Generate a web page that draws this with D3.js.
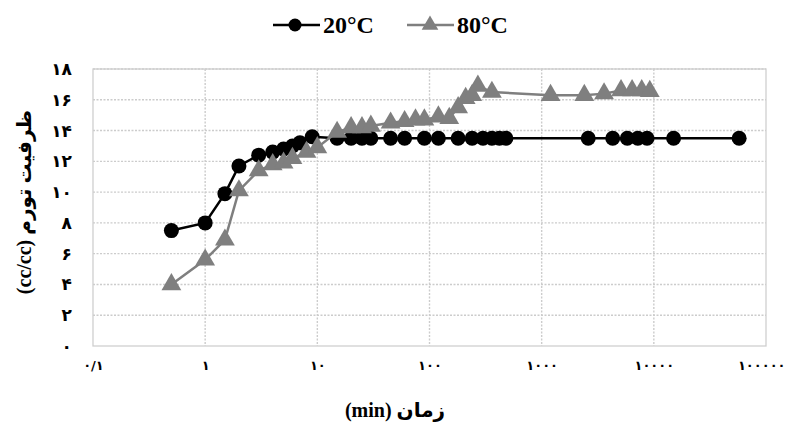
<!DOCTYPE html>
<html>
<head>
<meta charset="utf-8">
<script src="https://cdn.jsdelivr.net/npm/d3@7"></script>
<style>
  body { margin: 0; background: #fff; }
  text { font-family: "Liberation Serif", "DejaVu Sans", serif; font-weight: bold; }
</style>
</head>
<body>
<svg id="canvas"></svg>
<script>
let svg = d3.select("#canvas");

svg.attr('width', 788)
    .attr('height', 425)

// data (time in min, swelling in cc/cc)
let t20 = [0.5, 1, 1.5, 2, 3, 4, 5, 6, 7, 9, 15, 20, 25, 30, 45, 60, 90, 120, 180, 240, 300, 360, 420, 480, 2600, 4300, 5800, 7200, 8700, 15000, 57600];
let v20 = [7.5, 8.0, 9.9, 11.7, 12.4, 12.6, 12.8, 13.0, 13.2, 13.6, 13.5, 13.5, 13.5, 13.5, 13.5, 13.5, 13.5, 13.5, 13.5, 13.5, 13.5, 13.5, 13.5, 13.5, 13.5, 13.5, 13.5, 13.5, 13.5, 13.5, 13.5];

let t80 = [0.5, 1, 1.5, 2, 3, 4, 5, 6, 8, 10, 15, 20, 25, 30, 45, 60, 75, 90, 120, 150, 180, 210, 240, 270, 360, 1200, 2400, 3600, 5100, 6400, 7800, 9200];
let v80 = [4.0, 5.6, 6.9, 10.1, 11.4, 11.8, 11.9, 12.2, 12.6, 12.9, 13.9, 14.2, 14.2, 14.3, 14.5, 14.6, 14.7, 14.7, 14.9, 14.8, 15.5, 16.1, 16.3, 16.9, 16.5, 16.3, 16.3, 16.4, 16.6, 16.6, 16.6, 16.55];

let xTicks = [0.1, 1, 10, 100, 1000, 10000, 100000];
let xTickLabels = ['۰/۱', '۱', '۱۰', '۱۰۰', '۱۰۰۰', '۱۰۰۰۰', '۱۰۰۰۰۰'];
let yTicks = d3.range(0, 19, 2);
let fa = n => String(n).replace(/\d/g, d => '۰۱۲۳۴۵۶۷۸۹'[d]);

let series = [
  { name: '20°C', color: '#000', shape: 'circle', pts: t20.map((t, i) => [t, v20[i]]) },
  { name: '80°C', color: '#7f7f7f', shape: 'triangle', pts: t80.map((t, i) => [t, v80[i]]) }
];

let m = { left: 93, right: 22, top: 69, bottom: 79 };
let w = 788 - m.left - m.right;
let h = 425 - m.top - m.bottom;

let x = d3.scaleLog().domain([0.1, 100000]).range([m.left, m.left + w]);
let y = d3.scaleLinear().domain([0, 18]).range([m.top + h, m.top]);

// grid
svg.append('g')
  .selectAll('line')
  .data(yTicks.slice(1))
  .join('line')
  .attr('x1', m.left).attr('x2', m.left + w)
  .attr('y1', d => y(d)).attr('y2', d => y(d))
  .attr('stroke', '#cccccc').attr('stroke-width', 1.4).attr('stroke-dasharray', '2,1.5');

svg.append('g')
  .selectAll('line')
  .data(xTicks.slice(1, -1))
  .join('line')
  .attr('x1', d => x(d)).attr('x2', d => x(d))
  .attr('y1', m.top).attr('y2', m.top + h)
  .attr('stroke', '#cccccc').attr('stroke-width', 1.4).attr('stroke-dasharray', '2,1.5');

svg.append('rect')
  .attr('x', m.left).attr('y', m.top)
  .attr('width', w).attr('height', h)
  .attr('fill', 'none').attr('stroke', '#cfcfcf').attr('stroke-width', 1.3);

// axes labels
let yAxis = d3.axisLeft(y).tickValues(yTicks).tickSize(0).tickPadding(21).tickFormat(fa);
svg.append('g')
  .attr('transform', `translate(${m.left},0)`)
  .call(yAxis)
  .call(g => g.select('.domain').remove())
  .selectAll('text')
  .attr('font-size', 17)
  .attr('fill', '#000')
  .style('font-family', '"DejaVu Sans", sans-serif');

let xAxis = d3.axisBottom(x).tickValues(xTicks).tickSize(0).tickPadding(15)
  .tickFormat((d, i) => xTickLabels[i]);
svg.append('g')
  .attr('transform', `translate(0,${m.top + h})`)
  .call(xAxis)
  .call(g => g.select('.domain').remove())
  .selectAll('text')
  .attr('font-size', 13)
  .attr('fill', '#000')
  .style('font-family', '"DejaVu Sans", sans-serif')
  .filter((d, i) => i === xTicks.length - 1)
  .attr('text-anchor', 'end')
  .attr('dx', 19);

// lines and markers
let line = d3.line().x(d => x(d[0])).y(d => y(d[1]));
let tri = d3.symbol().type(d3.symbolTriangle).size(170);

series.forEach(s => {
  svg.append('path')
    .datum(s.pts)
    .attr('d', line)
    .attr('fill', 'none')
    .attr('stroke', s.color)
    .attr('stroke-width', 2.5);

  if (s.shape === 'circle') {
    svg.append('g').selectAll('circle')
      .data(s.pts)
      .join('circle')
      .attr('cx', d => x(d[0]))
      .attr('cy', d => y(d[1]))
      .attr('r', 7.5)
      .attr('fill', s.color);
  } else {
    svg.append('g').selectAll('path')
      .data(s.pts)
      .join('path')
      .attr('d', tri)
      .attr('transform', d => `translate(${x(d[0])},${y(d[1])})`)
      .attr('fill', s.color);
  }
});

// legend
let lg = svg.append('g');
let lx = [273, 407];
series.forEach((s, i) => {
  let g = lg.append('g').attr('transform', `translate(${lx[i]},25)`);
  g.append('line').attr('x1', 0).attr('x2', 47).attr('stroke', s.color).attr('stroke-width', 2.5);
  if (s.shape === 'circle') {
    g.append('circle').attr('cx', 22).attr('r', 6.5).attr('fill', s.color);
  } else {
    g.append('path').attr('d', d3.symbol().type(d3.symbolTriangle).size(120)).attr('transform', 'translate(23,0)').attr('fill', s.color);
  }
  g.append('text').attr('x', 50).attr('y', 8).attr('font-size', 24).attr('fill', '#000').text(s.name);
});

// axis titles
svg.append('text')
  .attr('x', 395).attr('y', 417)
  .attr('text-anchor', 'middle')
  .attr('font-size', 20)
  .attr('direction', 'rtl')
  .text('زمان (min)');

svg.append('text')
  .attr('transform', 'translate(31,202) rotate(-90)')
  .attr('text-anchor', 'middle')
  .attr('font-size', 20)
  .attr('direction', 'rtl')
  .text('ظرفیت تورم (cc/cc)');
</script>
</body>
</html>
